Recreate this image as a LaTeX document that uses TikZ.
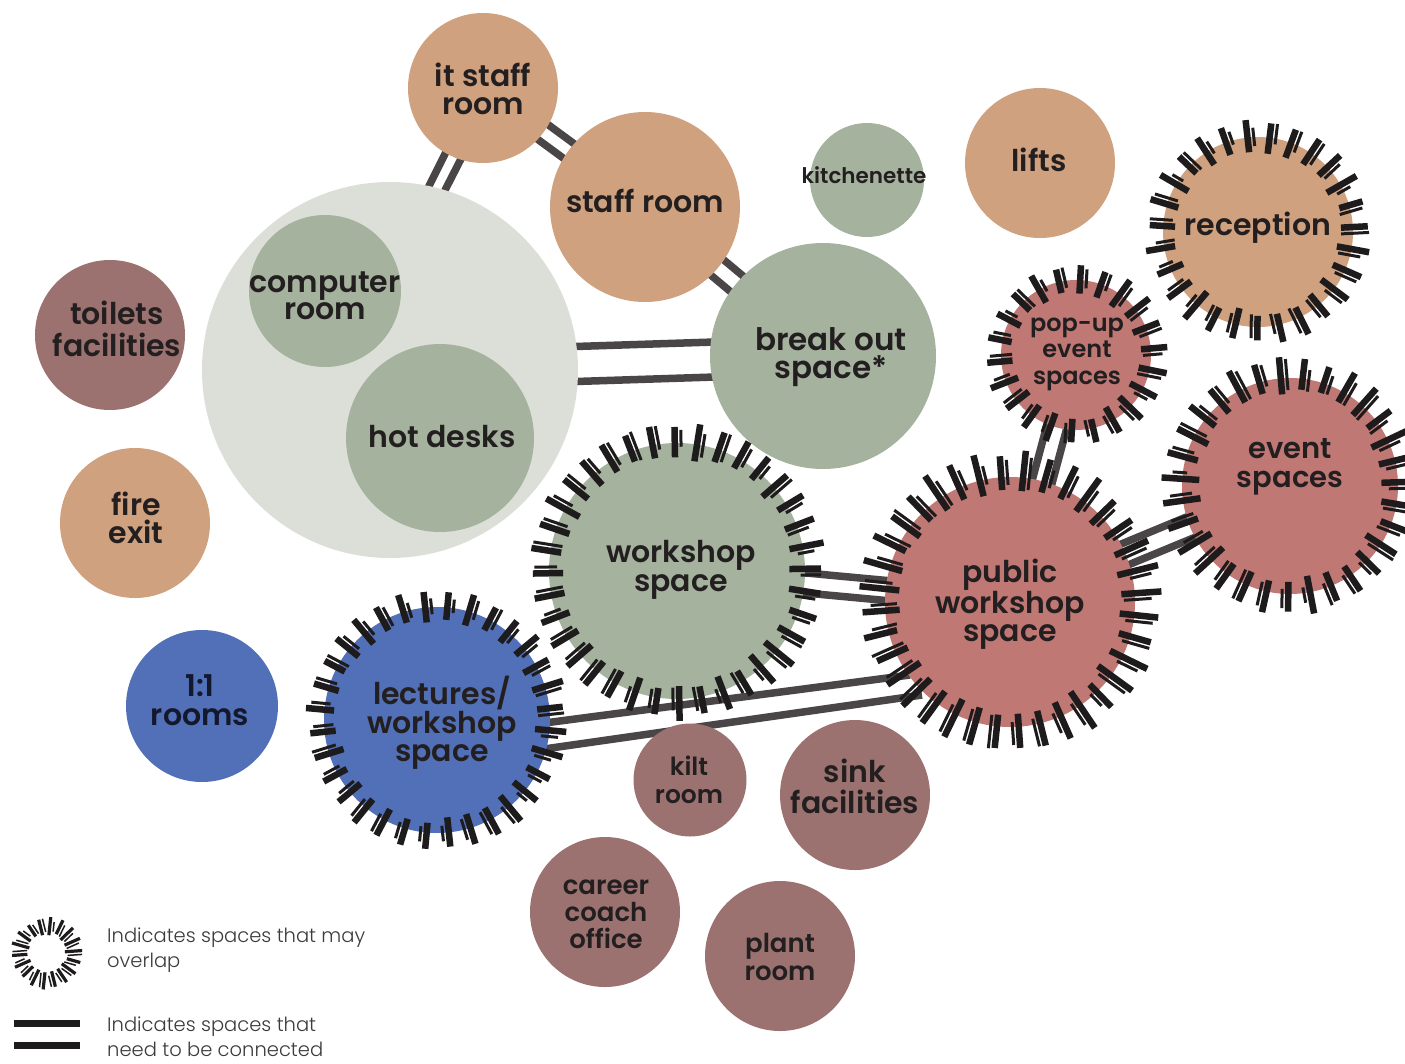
\documentclass[tikz,border=0pt]{standalone}
\usepackage{fontspec}
\setmainfont{Poppins}
\newfontfamily\labfont{Poppins SemiBold}
\newfontfamily\legfont{Poppins Light}
\usetikzlibrary{calc,backgrounds}
\definecolor{cTan}{RGB}{207,161,127}
\definecolor{cGreen}{RGB}{165,178,158}
\definecolor{cLight}{RGB}{220,223,216}
\definecolor{cMauve}{RGB}{155,114,112}
\definecolor{cRed}{RGB}{192,120,116}
\definecolor{cBlue}{RGB}{82,112,184}
\definecolor{cText}{RGB}{35,31,32}
\definecolor{cNavy}{RGB}{20,24,45}
\definecolor{cBar}{RGB}{74,70,71}
\definecolor{cTick}{RGB}{30,27,28}
\definecolor{cLeg}{RGB}{60,58,58}
\newcommand{\tickring}[7]{%
  \pgfmathsetmacro{\rkLen}{#3-#2}%
  \pgfmathsetmacro{\rkOff}{#6/2+#7/2+1.5}%
  \foreach \k in {1,...,#4}{%
    \pgfmathsetmacro{\rkA}{#5+360*\k/#4}%
    \pgfmathsetmacro{\rkI}{#2+0.25*\rkLen*(rnd-0.5)}%
    \pgfmathsetmacro{\rkO}{#3+0.2*\rkLen*(rnd-0.5)}%
    \pgfmathsetmacro{\rkTI}{#2+0.3*\rkLen*rnd}%
    \pgfmathsetmacro{\rkTO}{#3-0.3*\rkLen*rnd}%
    \begin{scope}[shift={(#1.center)},rotate=\rkA]
      \draw[line width=#6pt,cTick] (\rkI,0) -- (\rkO,0);
      \draw[line width=#7pt,cTick] (\rkTI,\rkOff) -- (\rkTO,\rkOff);
    \end{scope}}}
\newcommand{\twobars}[3]{%
  \draw[bar] ($(#1.center)!#3!90:(#2.center)$) -- ($(#2.center)!#3!-90:(#1.center)$);
  \draw[bar] ($(#1.center)!#3!-90:(#2.center)$) -- ($(#2.center)!#3!90:(#1.center)$);}
\begin{document}
\begin{tikzpicture}[x=1pt,y=-1pt,
  room/.style={circle,inner sep=0pt,draw=none},
  lab/.style 2 args={align=center,inner sep=0pt,text=cText,font=\labfont\fontsize{#1}{#2}\selectfont},
  bar/.style={line width=7.5pt,cBar},
  legbar/.style={line width=7pt,cTick},
  legtext/.style={anchor=base west,inner sep=0pt,text=cLeg,font=\legfont\fontsize{19.5}{26}\selectfont}]
\pgfmathsetseed{7}
\useasboundingbox (0,0) rectangle (1405,1063);
% rooms
\node[room,fill=cTan,minimum size=150pt] (itstaff) at (483,88) {};
\node[room,fill=cTan,minimum size=190pt] (staff) at (645,207) {};
\node[room,fill=cGreen,minimum size=114pt] (kitch) at (867,180) {};
\node[room,fill=cTan,minimum size=150pt] (lifts) at (1040,163) {};
\node[room,fill=cTan,minimum size=190pt] (recep) at (1258,232) {};
\node[room,fill=cLight,minimum size=376pt] (big) at (390,370) {};
\node[room,fill=cGreen,minimum size=152pt] (comp) at (325,291) {};
\node[room,fill=cGreen,minimum size=188pt] (hot) at (440,438) {};
\node[room,fill=cGreen,minimum size=226pt] (brk) at (823,356) {};
\node[room,fill=cMauve,minimum size=150pt] (toil) at (110,335) {};
\node[room,fill=cTan,minimum size=150pt] (fire) at (135,523) {};
\node[room,fill=cBlue,minimum size=152pt] (one) at (202,706) {};
\node[room,fill=cBlue,minimum size=226pt] (lect) at (437,720) {};
\node[room,fill=cGreen,minimum size=256pt] (work) at (677,571) {};
\node[room,fill=cRed,minimum size=250pt] (pub) at (1010,602) {};
\node[room,fill=cRed,minimum size=150pt] (pop) at (1076,355) {};
\node[room,fill=cRed,minimum size=216pt] (event) at (1290,486) {};
\node[room,fill=cMauve,minimum size=113pt] (kilt) at (690,780) {};
\node[room,fill=cMauve,minimum size=150pt] (sink) at (855,795) {};
\node[room,fill=cMauve,minimum size=150pt] (career) at (605,912) {};
\node[room,fill=cMauve,minimum size=150pt] (plant) at (780,956) {};
\coordinate (legring) at (47,953);
% connectors behind
\begin{pgfonlayer}{background}
\fill[white] (0,0) rectangle (1405,1063);
\draw[bar] ($(itstaff.center)+(-36,62)$) -- ($(big.center)+(35,-176)$);
\draw[bar] ($(itstaff.center)+(-20,67)$) -- ($(big.center)+(51,-172)$);
\twobars{itstaff}{staff}{9pt}
\twobars{staff}{brk}{10pt}
\twobars{big}{brk}{17.5pt}
\twobars{work}{pub}{10pt}
\twobars{pop}{pub}{10pt}
\twobars{pub}{event}{11pt}
\draw[bar] ($(lect.center)+(100,4)$) -- ($(pub.center)+(-100,73)$);
\draw[bar] ($(lect.center)+(100,30)$) -- ($(pub.center)+(-88,93)$);
\end{pgfonlayer}
% overlap rings
\tickring{recep}{82}{111}{27}{3}{6.5}{3}
\tickring{pop}{63}{90}{22}{5}{6.5}{3}
\tickring{event}{94}{127}{31}{2}{6.5}{3}
\tickring{pub}{112}{149}{36}{4}{6.5}{3}
\tickring{work}{115}{147}{36}{1}{6.5}{3}
\tickring{lect}{101}{129}{32}{6}{6.5}{3}
\tickring{legring}{19}{35}{18}{4}{3.2}{1.5}
% labels
\node[lab={30}{27.5}] (itstaffL) at (483,89) {it staff\\room};
\node[lab={30}{27.5}] (staffL) at (645,201) {staff room};
\node[lab={21.5}{20}] (kitchL) at (864,175) {kitchenette};
\node[lab={30}{27.5}] (liftsL) at (1039,160) {lifts};
\node[lab={30}{27.5}] (recepL) at (1258,228) {reception};
\node[lab={30}{27.5}] (compL) at (325,296) {computer\\room};
\node[lab={30}{27.5}] (hotL) at (442,437) {hot desks};
\node[lab={31}{28.5}] (brkL) at (831,357) {break out\\space*};
\node[lab={30}{32}] (toilL) at (117,329) {toilets\\facilities};
\node[lab={30}{28}] (fireL) at (136,518) {fire\\exit};
\node[lab={30}{28.5},text=cNavy] (oneL) at (200,700) {1:1\\rooms};
\node[lab={30}{28.5}] (lectL) at (442,723) {lectures/\\workshop\\space};
\node[lab={30}{28.5}] (workL) at (681,570) {workshop\\space};
\node[lab={30}{27.5}] (pubL) at (1010,604) {public\\workshop\\space};
\node[lab={24}{26.5}] (popL) at (1077,354) {pop-up\\event\\spaces};
\node[lab={29}{28.5}] (eventL) at (1290,467) {event\\spaces};
\node[lab={25}{28}] (kiltL) at (689,780) {kilt\\room};
\node[lab={30}{31}] (sinkL) at (855,786) {sink\\facilities};
\node[lab={26}{27}] (careerL) at (606,914) {career\\coach\\office};
\node[lab={26}{27.5}] (plantL) at (780,957) {plant\\room};
% legend
\coordinate (lb1a) at (14,1023);
\coordinate (lb1b) at (80,1023);
\coordinate (lb2a) at (14,1045);
\coordinate (lb2b) at (80,1045);
\draw[legbar] (lb1a) -- (lb1b);
\draw[legbar] (lb2a) -- (lb2b);
\node[legtext] (leg1a) at (107,942) {Indicates spaces that may};
\node[legtext] (leg1b) at (107,967) {overlap};
\node[legtext] (leg2a) at (107,1031) {Indicates spaces that};
\node[legtext] (leg2b) at (107,1056) {need to be connected};
\end{tikzpicture}
\end{document}
